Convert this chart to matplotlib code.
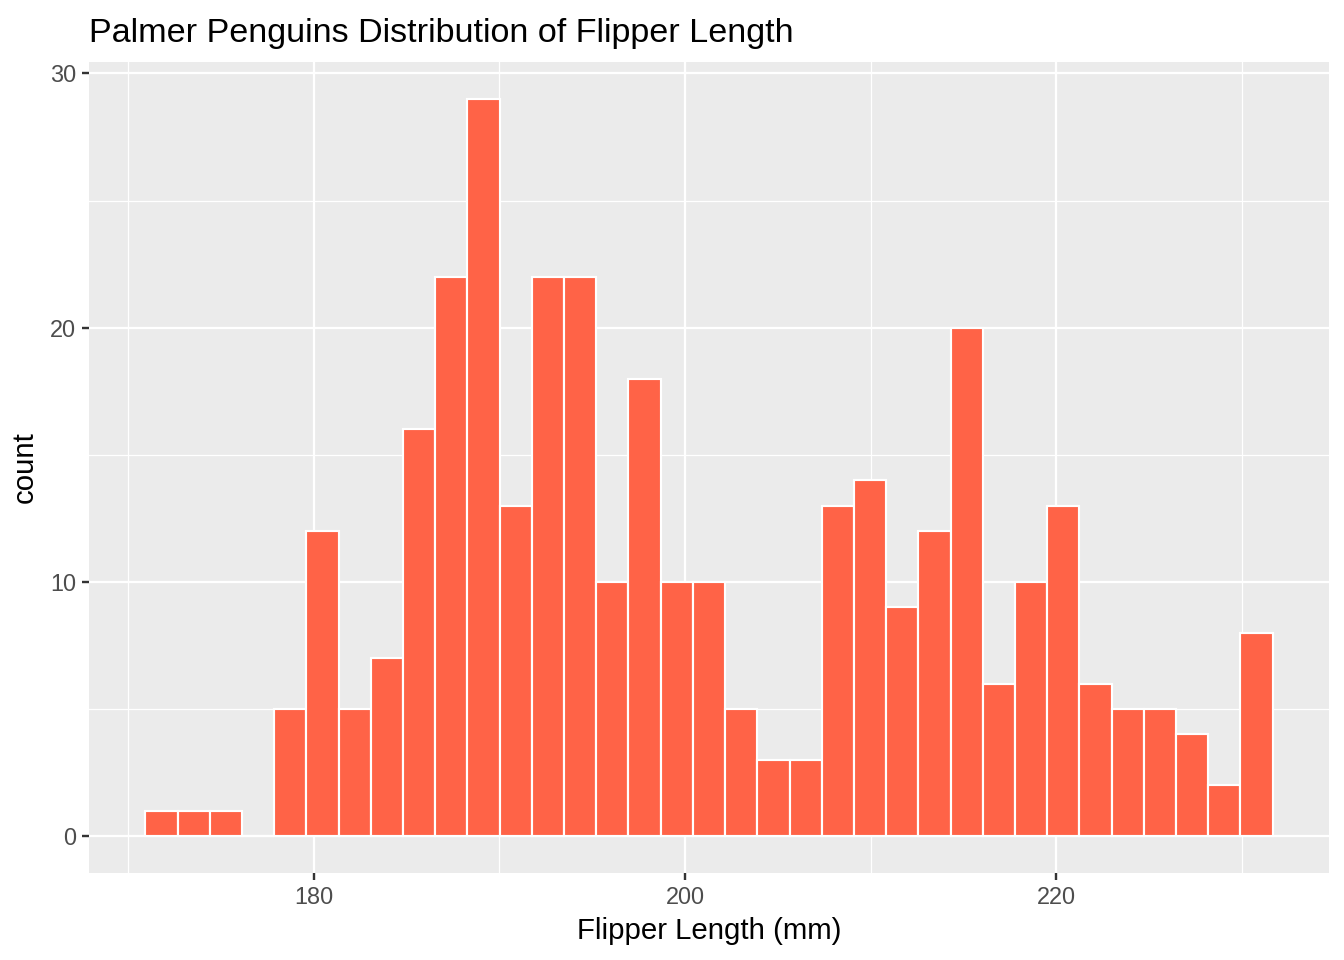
import numpy as np
import matplotlib
matplotlib.use("Agg")
import matplotlib.pyplot as plt

# histogram of flipper length, 35 bins over the 172 - 231 mm range
flipper_min = 172
flipper_max = 231
n_bins = 35
counts = [1, 1, 1, 0, 5, 12, 5, 7, 16, 22, 29, 13, 22, 22, 10, 18, 10, 10,
          5, 3, 3, 13, 14, 9, 12, 20, 6, 10, 13, 6, 5, 5, 4, 2, 8]

x_ticks = [180, 200, 220]
x_minor = [170, 190, 210, 230]
y_ticks = [0, 10, 20, 30]
y_minor = [5, 15, 25]

plt.rcParams['font.family'] = ['Liberation Sans', 'DejaVu Sans']

# bin placement the way ggplot2 does it for bins=n
width = (flipper_max - flipper_min) / (n_bins - 1)
boundary = width / 2
origin = boundary + np.floor((flipper_min - boundary) / width) * width
edges = origin + np.arange(n_bins + 1) * width
centers = (edges[:-1] + edges[1:]) / 2

fig = plt.figure(figsize=(7, 5), dpi=192)
ax = fig.add_axes([89 / 1344, 1 - 873 / 960, (1329 - 89) / 1344, (873 - 62) / 960])
ax.set_facecolor('#EBEBEB')

ax.bar(centers, counts, width=width, color='#FF6347', edgecolor='white',
       linewidth=0.8, zorder=3)

lo = edges[0]
hi = edges[-1]
pad = (hi - lo) * 0.05
ax.set_xlim(lo - pad, hi + pad)
ymax = max(counts)
ax.set_ylim(-ymax * 0.05, ymax * 1.05)

ax.set_xticks(x_ticks)
ax.set_xticks(x_minor, minor=True)
ax.set_yticks(y_ticks)
ax.set_yticks(y_minor, minor=True)
ax.grid(which='major', color='white', linewidth=0.85, zorder=1)
ax.grid(which='minor', color='white', linewidth=0.45, zorder=1)
ax.set_axisbelow(True)
for s in ax.spines.values():
    s.set_visible(False)

ax.tick_params(which='major', length=2.75, width=0.9, color='#333333',
               labelsize=8.8, labelcolor='#4D4D4D', pad=2.2)
ax.tick_params(which='minor', length=0)

ax.set_xlabel('Flipper Length (mm)', fontsize=11, color='black', labelpad=3)
ax.set_ylabel('count', fontsize=11, color='black', labelpad=4)
ax.set_title('Palmer Penguins Distribution of Flipper Length', fontsize=12.8,
             loc='left', color='black', pad=7.5)

fig.savefig('out.png', dpi=192)
